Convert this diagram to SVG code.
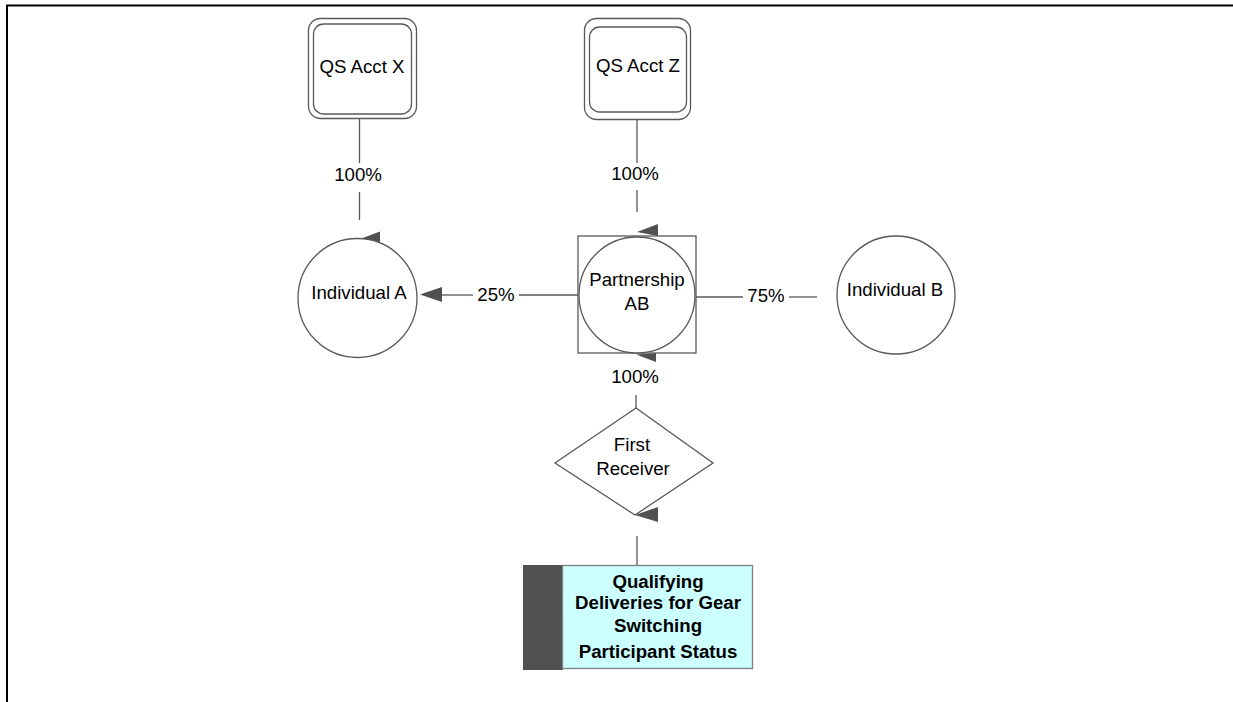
<svg xmlns="http://www.w3.org/2000/svg" width="1233" height="702" viewBox="0 0 1233 702">
<style>
.t{font-family:"Liberation Sans",Arial,sans-serif;font-size:18.67px;fill:#000;text-anchor:middle}
.b{font-family:"Liberation Sans",Arial,sans-serif;font-size:18.67px;font-weight:bold;fill:#000;text-anchor:middle}
.s{fill:#fff;stroke:#595959;stroke-width:1.3}
.c{stroke:#595959;stroke-width:1.3;fill:none}
.a{fill:#505050;stroke:none}
</style>
<rect width="1233" height="702" fill="#fff"/>
<g id="frame">
<line x1="6" y1="5.5" x2="1233" y2="5.5" stroke="#000" stroke-width="2"/>
<line x1="7" y1="5" x2="7" y2="702" stroke="#000" stroke-width="2"/>
</g>
<g id="connectors">
<line class="c" x1="359.5" y1="119" x2="359.5" y2="163"/>
<line class="c" x1="359.5" y1="192" x2="359.5" y2="220"/>
<text class="t" x="358" y="181">100%</text>
<polygon class="a" points="360,239 380,231.5 380,242"/>
<line class="c" x1="637" y1="120" x2="637" y2="163"/>
<line class="c" x1="637" y1="190" x2="637" y2="212"/>
<text class="t" x="635" y="180">100%</text>
<polygon class="a" points="637,232 658,224 658,236"/>
<line class="c" x1="442" y1="295" x2="473" y2="295"/>
<line class="c" x1="519" y1="295" x2="578" y2="295"/>
<text class="t" x="496" y="301">25%</text>
<polygon class="a" points="420,294.5 442,287 442,302"/>
<line class="c" x1="696" y1="297" x2="743" y2="297"/>
<line class="c" x1="789" y1="297" x2="817" y2="297"/>
<text class="t" x="766" y="302">75%</text>
<polygon class="a" points="636,354.5 656,353 656,362"/>
<text class="t" x="635" y="383">100%</text>
<line class="c" x1="636" y1="395" x2="636" y2="408"/>
<polygon class="a" points="635,515 658,507 658,522"/>
<line class="c" x1="637" y1="536" x2="637" y2="565"/>
</g>
<g id="qs-acct-x">
<rect class="s" x="308.5" y="18.5" width="108" height="100" rx="12"/>
<rect class="s" x="313.5" y="24" width="98" height="90" rx="10"/>
<text class="t" x="362" y="73">QS Acct X</text>
</g>
<g id="qs-acct-z">
<rect class="s" x="584.5" y="18.5" width="106" height="101" rx="12"/>
<rect class="s" x="589.5" y="27" width="97" height="85" rx="10"/>
<text class="t" x="638" y="72">QS Acct Z</text>
</g>
<g id="individual-a">
<circle class="s" cx="357.5" cy="298" r="59.5"/>
<text class="t" x="359" y="299">Individual A</text>
</g>
<g id="partnership-ab">
<rect class="s" x="578" y="236" width="118" height="117"/>
<circle class="s" cx="637" cy="295" r="58"/>
<text class="t" x="637" y="286">Partnership</text>
<text class="t" x="637" y="310">AB</text>
</g>
<g id="individual-b">
<circle class="s" cx="896" cy="295" r="59"/>
<text class="t" x="895" y="296">Individual B</text>
</g>
<g id="first-receiver">
<polygon class="s" points="636,408 713,463 635,515 555,463"/>
<text class="t" x="632" y="451">First</text>
<text class="t" x="633" y="475">Receiver</text>
</g>
<g id="qualifying-deliveries">
<rect x="523" y="565" width="40" height="105" fill="#505050"/>
<rect x="562.5" y="565.5" width="190" height="103" fill="#ccffff" stroke="#7f7f7f" stroke-width="1.3"/>
<text class="b" x="658" y="588">Qualifying</text>
<text class="b" x="658" y="609">Deliveries for Gear</text>
<text class="b" x="658" y="632">Switching</text>
<text class="b" x="658" y="658">Participant Status</text>
</g>
</svg>
